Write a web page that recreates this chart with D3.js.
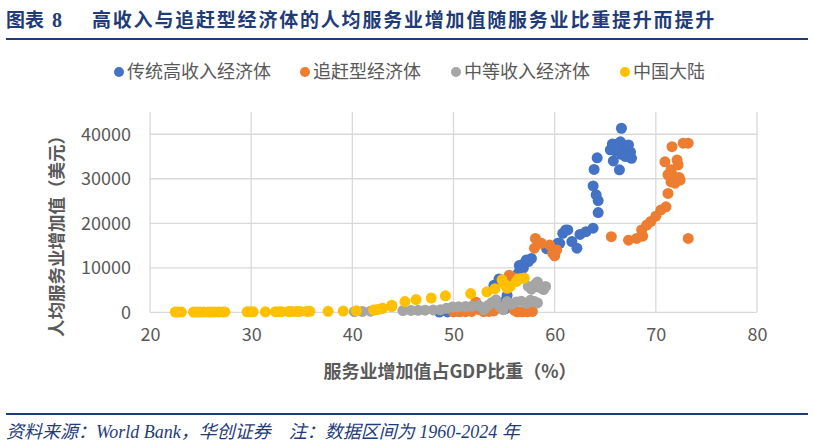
<!DOCTYPE html>
<html>
<head>
<meta charset="utf-8">
<script src="https://cdn.jsdelivr.net/npm/d3@7"></script>
<style>
  body { margin: 0; background: #fff; }
  svg { display: block; }
</style>
</head>
<body>
<svg id="chart" width="814" height="446"></svg>
<script>
// axis ticks
var xTicks = [20, 30, 40, 50, 60, 70, 80];
var yTicks = [0, 10000, 20000, 30000, 40000];

// series names (legend order = draw order)
var seriesNames = ["传统高收入经济体", "追赶型经济体", "中等收入经济体", "中国大陆"];
var seriesColors = ["#4472C4", "#ED7D31", "#A5A5A5", "#FFC000"];

// [服务业增加值占GDP比重 %, 人均服务业增加值 美元]
var highIncome = [
  [48.6, 50], [49.4, 80], [50.5, 200], [51.5, 400], [52.5, 700], [53.2, 1000], [54.0, 1500],
  [55.1, 800], [55.2, 2800], [55.3, 3800], [54.0, 6100], [54.6, 7300], [54.5, 7500],
  [56.4, 8800], [56.9, 9900], [57.0, 11000], [57.4, 11400], [57.7, 12100], [56.5, 10500], [57.2, 11750],
  [59.2, 14300], [59.8, 14800], [60.3, 15500], [60.5, 15500], [60.8, 17750], [61.1, 18500], [61.3, 18500],
  [61.7, 15900], [62.2, 14400], [62.5, 17500], [63.1, 18100], [63.8, 18900],
  [64.3, 22400], [64.3, 25100], [64.1, 26400], [63.8, 28400], [63.9, 32100], [64.2, 34700],
  [65.8, 34000], [66.4, 32000], [66.6, 41350],
  [65.5, 36500], [65.9, 37200], [66.2, 37800], [66.5, 38300], [66.8, 37500], [67.2, 36800],
  [67.5, 36000], [66.0, 36200], [66.6, 35500], [67.0, 35000], [67.6, 34600], [65.7, 37800],
  [66.3, 36700], [67.3, 37600]
];

var catchUp = [
  [50.0, 80], [50.6, 120], [51.2, 150], [51.8, 200], [52.2, 2300], [52.6, 600], [53.0, 150],
  [53.5, 200], [54.0, 300], [54.3, 1000], [55.5, 8300], [55.9, 7800], [56.0, 500], [56.3, 100],
  [56.8, 100], [57.3, 100], [57.8, 200],
  [58.1, 16600], [58.0, 14400], [58.7, 15500], [59.5, 15100], [60.2, 14000], [60.0, 12700], [59.8, 13300],
  [65.6, 17000], [67.3, 16200], [68.1, 16600], [68.7, 17100], [68.6, 18500], [69.1, 19600],
  [69.5, 20400], [70.0, 21600], [70.5, 23000], [71.0, 23700], [71.2, 26700], [71.5, 29300],
  [71.9, 30100], [72.4, 29700], [71.2, 30900], [71.5, 32000], [72.2, 33100], [72.1, 34200],
  [70.9, 33800], [71.6, 37200], [72.7, 38000], [73.2, 38000], [73.2, 16600], [71.9, 29000],
  [71.6, 31000], [72.3, 30300]
];

var middleIncome = [
  [40.2, 150], [41.0, 200], [41.8, 250], [45.0, 380],
  [45.8, 420], [46.5, 450], [47.2, 480], [48.0, 520], [48.7, 560], [49.3, 900], [49.9, 1200],
  [50.5, 1250], [51.2, 1300], [51.8, 1350], [52.5, 1500],
  [53.0, 600], [53.4, 1500], [53.8, 2200], [54.2, 2800], [54.6, 1200], [54.9, 600], [55.3, 2400],
  [55.7, 1800], [56.2, 2300], [56.7, 2500], [57.2, 2000], [57.6, 2700], [58.0, 2400], [58.3, 2100],
  [57.7, 5200], [58.1, 6300], [58.5, 5600], [58.9, 5100], [59.1, 5800], [58.3, 6800], [57.4, 5800]
];

var china = [
  [22.5, 40], [22.8, 45], [23.1, 50], [24.3, 55], [24.6, 60], [24.9, 60], [25.3, 65], [25.8, 70],
  [26.1, 70], [26.4, 75], [26.8, 80], [27.2, 85], [27.4, 90], [29.6, 100], [29.9, 110], [30.2, 115],
  [31.4, 120], [32.4, 130], [32.7, 140], [33.0, 150], [33.7, 160], [34.0, 170], [34.5, 180],
  [34.8, 190], [35.5, 200], [35.8, 210], [37.6, 230], [39.1, 280], [40.4, 350], [42.1, 500],
  [42.5, 650], [42.8, 750], [43.0, 900], [43.9, 1300], [43.9, 1600], [45.2, 2400], [46.3, 2850],
  [47.8, 3200], [49.2, 3700], [51.7, 4200], [53.3, 4600], [54.1, 5300], [55.0, 6400], [55.6, 5800],
  [54.8, 7300], [55.3, 5400], [56.2, 6900], [56.4, 7500], [56.7, 7600], [57.0, 7700]
];

var allSeries = [highIncome, catchUp, middleIncome, china];

var svg = d3.select("#chart");
var cjk = "'Noto Sans CJK SC', 'Noto Sans', sans-serif";
var navy = "#1F3C78";
var textGray = "#595959";

// title
var title = svg.append("text")
  .attr("x", 6).attr("y", 27)
  .attr("fill", navy)
  .style("font-weight", "bold");
title.append("tspan")
  .style("font-family", cjk).style("font-size", "19px")
  .text("图表");
title.append("tspan")
  .attr("dx", 8)
  .style("font-family", "'Liberation Serif', serif").style("font-size", "20px")
  .text("8");
title.append("tspan")
  .attr("x", 92)
  .style("font-family", cjk).style("font-size", "19px")
  .style("letter-spacing", "1.8px")
  .text("高收入与追赶型经济体的人均服务业增加值随服务业比重提升而提升");

svg.append("line")
  .attr("x1", 6).attr("x2", 808).attr("y1", 39).attr("y2", 39)
  .attr("stroke", navy).attr("stroke-width", 2);

// scales
var x = d3.scaleLinear().domain([20, 80]).range([150, 757]);
var y = d3.scaleLinear().domain([0, 45000]).range([312.3, 112]);

// grid
svg.append("g").selectAll("line")
  .data(xTicks)
  .enter().append("line")
  .attr("x1", d => x(d)).attr("x2", d => x(d))
  .attr("y1", y(0)).attr("y2", y(45000))
  .attr("stroke", "#D9D9D9").attr("stroke-width", 1.3);

svg.append("g").selectAll("line")
  .data(yTicks)
  .enter().append("line")
  .attr("x1", x(20)).attr("x2", x(80))
  .attr("y1", d => y(d)).attr("y2", d => y(d))
  .attr("stroke", "#D9D9D9").attr("stroke-width", 1.3);

// axes (labels only)
var yAxis = svg.append("g")
  .attr("transform", "translate(" + x(20) + ",0)")
  .call(d3.axisLeft(y).tickValues(yTicks).tickSize(0).tickPadding(19).tickFormat(d3.format("d")));
var xAxis = svg.append("g")
  .attr("transform", "translate(0," + y(0) + ")")
  .call(d3.axisBottom(x).tickValues(xTicks).tickSize(0).tickPadding(16).tickFormat(d3.format("d")));
[yAxis, xAxis].forEach(function(a) {
  a.select(".domain").remove();
  a.selectAll("text")
    .attr("fill", textGray)
    .style("font-family", cjk)
    .style("font-size", "18px");
});

// axis titles
svg.append("text")
  .attr("transform", "translate(63,232) rotate(-90)")
  .attr("text-anchor", "middle")
  .attr("fill", textGray)
  .style("font-family", cjk).style("font-size", "17.5px").style("font-weight", "bold")
  .text("人均服务业增加值（美元）");

svg.append("text")
  .attr("x", 450).attr("y", 378)
  .attr("text-anchor", "middle")
  .attr("fill", textGray)
  .style("font-family", cjk).style("font-size", "18px").style("font-weight", "bold")
  .text("服务业增加值占GDP比重（%）");

// points
allSeries.forEach(function(data, i) {
  svg.append("g").selectAll("circle")
    .data(data)
    .enter().append("circle")
    .attr("cx", d => x(d[0]))
    .attr("cy", d => y(d[1]))
    .attr("r", 5.5)
    .attr("fill", seriesColors[i]);
});

// legend
var legendX = [119, 305, 456, 625];
var legend = svg.append("g").selectAll("g")
  .data(seriesNames)
  .enter().append("g")
  .attr("transform", (d, i) => "translate(" + legendX[i] + ",72)");
legend.append("circle")
  .attr("r", 5)
  .attr("fill", (d, i) => seriesColors[i]);
legend.append("text")
  .attr("x", 8).attr("y", 6)
  .attr("fill", textGray)
  .style("font-family", cjk).style("font-size", "18px")
  .text(d => d);

// footer
svg.append("line")
  .attr("x1", 6).attr("x2", 808).attr("y1", 414).attr("y2", 414)
  .attr("stroke", navy).attr("stroke-width", 2);

svg.append("text")
  .attr("x", 6).attr("y", 438)
  .attr("fill", navy)
  .style("font-family", "'Liberation Serif', 'Noto Sans CJK SC', serif")
  .style("font-style", "italic")
  .style("font-size", "18px")
  .text("资料来源：World Bank，华创证券　注：数据区间为 1960-2024 年");
</script>
</body>
</html>
